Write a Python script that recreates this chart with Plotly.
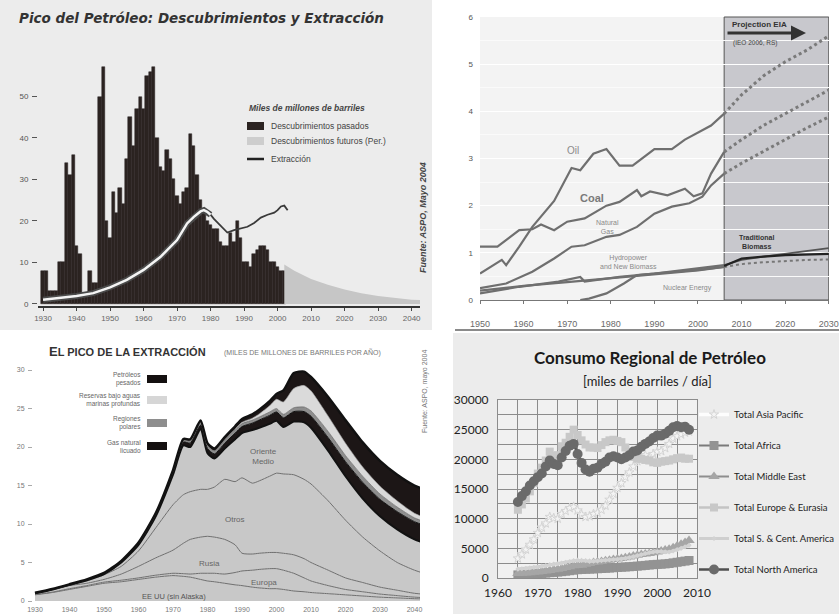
import plotly.graph_objects as go

W, H = 839, 614


def px_x(p):
    return p / W


def px_y(p):
    return 1 - p / H


# ---------------- Panel 1: discoveries and extraction ----------------
disc_years = list(range(1930, 2003))
disc_past = [8, 8, 3, 3, 3, 10, 10, 34, 31, 36,
             14, 12, 2, 2, 8, 5, 5, 50, 57, 20,
             16, 27, 22, 28, 24, 35, 45, 38, 47, 50,
             47, 55, 56, 57, 40, 33, 32, 37, 35, 30,
             26, 24, 27, 28, 41, 38, 31, 25, 22, 20,
             19, 18, 18, 15, 14, 14, 17, 15, 20, 16,
             10, 10, 9, 12, 13, 14, 14, 13, 10, 10,
             9, 8, 8]
fut_years = [2002, 2005, 2010, 2015, 2020, 2025, 2030, 2035, 2040, 2043]
fut_vals = [9.5, 8.0, 6.0, 4.6, 3.5, 2.6, 1.9, 1.4, 1.0, 0.9]
ext_years = [1930, 1935, 1940, 1945, 1950, 1955, 1960, 1965, 1970,
             1973, 1975, 1977, 1978, 1979, 1980, 1981, 1983, 1985, 1987,
             1989, 1991, 1993, 1995, 1997, 1999, 2000, 2001, 2002, 2003]
ext_vals = [1.0, 1.4, 1.9, 2.6, 4.0, 5.8, 8.2, 11.3, 15.4,
            19.4, 21.0, 22.3, 22.6, 22.2, 21.5, 20.5, 18.8, 17.2, 17.8,
            18.2, 18.6, 19.5, 20.8, 21.5, 22.0, 22.6, 23.5, 23.7, 22.6]
p1_ticks = list(range(1930, 2050, 10))

# ---------------- Panel 2: world energy by source ----------------
oil_years = [1950, 1955, 1956, 1959, 1962, 1967, 1971, 1973, 1976, 1979, 1982,
             1985, 1990, 1994, 1997, 2000, 2003, 2006]
oil_vals = [0.56, 0.85, 0.74, 1.13, 1.55, 2.1, 2.8, 2.75, 3.1, 3.2, 2.85,
            2.85, 3.2, 3.2, 3.4, 3.55, 3.7, 3.95]
coal_years = [1950, 1954, 1959, 1962, 1964, 1967, 1970, 1974, 1979, 1982, 1986,
              1987, 1989, 1993, 1997, 1999, 2001, 2003, 2006]
coal_vals = [1.13, 1.13, 1.48, 1.5, 1.6, 1.48, 1.66, 1.73, 2.0, 2.08, 2.33,
             2.2, 2.3, 2.22, 2.36, 2.2, 2.26, 2.68, 3.14]
gas_years = [1950, 1956, 1962, 1967, 1971, 1974, 1979, 1982, 1986, 1990, 1994,
             1998, 2001, 2003, 2006]
gas_vals = [0.25, 0.35, 0.6, 0.88, 1.13, 1.16, 1.34, 1.38, 1.55, 1.83, 1.98,
            2.05, 2.19, 2.43, 2.68]
hydro_years = [1950, 1959, 1968, 1973, 1974, 1982, 1990, 1997, 2006]
hydro_vals = [0.14, 0.28, 0.39, 0.49, 0.39, 0.49, 0.56, 0.64, 0.74]
nuc_years = [1973, 1975, 1979, 1983, 1986, 1990, 1995, 2000, 2006]
nuc_vals = [0.0, 0.03, 0.14, 0.35, 0.53, 0.56, 0.6, 0.64, 0.7]
trad_years = [1950, 1960, 1970, 1980, 1990, 2000, 2006]
trad_vals = [0.2, 0.3, 0.38, 0.46, 0.55, 0.63, 0.7]
proj_years = [2006, 2010, 2015, 2020, 2025, 2030]
oil_proj = [3.95, 4.35, 4.75, 5.05, 5.3, 5.6]
coal_proj = [3.14, 3.4, 3.7, 3.95, 4.2, 4.45]
gas_proj = [2.68, 2.9, 3.15, 3.4, 3.65, 3.88]
hydro_proj = [0.74, 0.85, 0.92, 0.98, 1.04, 1.1]
nuc_proj = [0.7, 0.76, 0.8, 0.83, 0.85, 0.86]
trad_proj_years = [2006, 2008, 2010, 2015, 2020, 2030]
trad_proj = [0.72, 0.8, 0.88, 0.92, 0.95, 0.98]
p2_xticks = [1950, 1960, 1970, 1980, 1990, 2000, 2010, 2020, 2030]

# ---------------- Panel 3: peak of extraction (cumulative band tops) ----------------
years3 = [1930, 1935, 1940, 1945, 1950, 1955, 1960, 1965, 1970,
          1973, 1975, 1978, 1980, 1982, 1985, 1988, 1990, 1993, 1995, 1998, 2000, 2002, 2005, 2008, 2010,
          2015, 2020, 2025, 2030, 2035, 2040, 2045, 2050]
top_us = [0.8, 1.1, 1.5, 1.9, 2.3, 2.5, 2.8, 3.1, 3.3,
          3.2, 3.1, 2.8, 2.6, 2.5, 2.3, 2.1, 2.0, 1.8, 1.7, 1.6, 1.6, 1.5, 1.3, 1.2, 1.1,
          0.95, 0.8, 0.65, 0.5, 0.4, 0.3, 0.25, 0.2]
top_eu = [0.85, 1.15, 1.6, 2.0, 2.45, 2.7, 3.0, 3.35, 3.6,
          3.55, 3.5, 3.6, 3.6, 3.6, 3.5, 3.7, 3.9, 4.0, 4.1, 4.2, 4.2, 4.0, 3.6, 3.0, 2.6,
          2.0, 1.5, 1.2, 0.9, 0.7, 0.5, 0.4, 0.3]
top_ru = [0.95, 1.4, 2.0, 2.3, 2.8, 3.5, 4.5, 5.6, 6.6,
          7.5, 8.0, 8.3, 8.4, 8.3, 8.0, 7.3, 6.2, 6.1, 6.2, 6.3, 6.3, 6.2, 6.0, 5.5, 5.0,
          4.0, 3.0, 2.4, 1.8, 1.4, 1.0, 0.8, 0.6]
top_ot = [1.0, 1.5, 2.05, 2.6, 3.4, 4.5, 6.5, 9.5, 12.5,
          13.8, 14.2, 14.5, 14.5, 14.8, 15.8, 15.5, 16.0, 15.3, 15.6, 16.2, 16.6, 16.5, 16.4, 15.8, 15.2,
          13.0, 10.5, 8.3, 6.5, 5.0, 4.0, 3.3, 2.8]
top_me = [1.0, 1.5, 2.1, 2.7, 3.5, 5.0, 7.3, 11.0, 16.4,
          20.2, 20.0, 22.3, 19.2, 18.5, 19.8, 21.0, 21.8, 22.2, 22.5, 23.0, 23.4, 22.6, 23.3, 23.2, 22.5,
          19.5, 16.2, 13.3, 11.0, 9.3, 8.0, 7.2, 6.5]
top_ngl = [1.05, 1.55, 2.15, 2.78, 3.6, 5.15, 7.5, 11.3, 16.8,
           20.65, 20.5, 22.85, 19.8, 19.1, 20.5, 21.8, 22.65, 23.1, 23.5, 24.1, 24.55, 23.8, 24.6, 24.6, 24.0,
           21.2, 18.1, 15.4, 13.2, 11.6, 10.3, 9.5, 8.7]
top_polar = [1.05, 1.55, 2.15, 2.78, 3.6, 5.15, 7.5, 11.3, 16.85,
             20.85, 20.8, 23.2, 20.2, 19.5, 20.9, 22.2, 23.05, 23.5, 23.9, 24.55, 25.0, 24.25, 25.1, 25.2, 24.7,
             22.0, 18.9, 16.2, 13.9, 12.2, 10.8, 10.0, 9.1]
top_deep = [1.05, 1.55, 2.15, 2.78, 3.6, 5.15, 7.5, 11.3, 16.85,
            20.85, 20.8, 23.2, 20.2, 19.5, 20.95, 22.3, 23.2, 23.75, 24.3, 25.35, 26.2, 25.85, 27.6, 28.0, 27.3,
            24.0, 20.5, 17.4, 14.9, 13.0, 11.4, 10.5, 9.5]
top_total = [1.07, 1.57, 2.18, 2.82, 3.65, 5.22, 7.6, 11.42, 17.0,
             21.05, 21.0, 23.45, 20.5, 19.8, 21.3, 22.7, 23.65, 24.25, 24.85, 25.95, 26.9, 27.35, 29.6, 29.8, 29.1,
             26.5, 23.5, 20.6, 18.2, 16.4, 15.0, 14.1, 13.0]

# ---------------- Panel 4: regional oil consumption ----------------
years4 = list(range(1965, 2009))
asia = [3300, 4000, 4800, 5600, 6500, 7600, 8500, 9200, 10300, 10100,
        10000, 10800, 11300, 11800, 12000, 11400, 10700, 10300, 10400, 10800,
        11000, 11500, 12200, 13200, 14200, 15200, 16000, 17000, 17800, 18800,
        19700, 20300, 20700, 20200, 20900, 21300, 21400, 21900, 22600, 23500,
        23900, 24200, 24500, 24700]
africa = [520, 550, 580, 620, 660, 720, 770, 830, 900, 950,
          1000, 1070, 1150, 1230, 1320, 1400, 1450, 1480, 1500, 1530,
          1560, 1600, 1640, 1680, 1730, 1780, 1820, 1860, 1900, 1950,
          2000, 2060, 2120, 2190, 2250, 2300, 2330, 2380, 2450, 2550,
          2650, 2750, 2850, 2950]
mideast = [750, 800, 850, 900, 960, 1030, 1100, 1180, 1280, 1380,
           1480, 1600, 1750, 1900, 2050, 2100, 2150, 2300, 2450, 2600,
           2700, 2800, 2900, 3000, 3100, 3200, 3300, 3400, 3550, 3700,
           3850, 3950, 4050, 4150, 4250, 4400, 4550, 4700, 4850, 5100,
           5400, 5700, 6000, 6300]
europe = [11500, 12400, 13400, 14600, 16000, 17600, 18600, 19800, 21300, 20600,
          20700, 22200, 22800, 23800, 25000, 24100, 23200, 22500, 22000, 22000,
          21900, 22400, 22900, 23200, 23300, 23100, 22900, 22000, 21200, 20400,
          20100, 20100, 19900, 19800, 19500, 19400, 19600, 19700, 19800, 20000,
          20200, 20300, 20100, 20100]
scamerica = [1500, 1560, 1620, 1700, 1790, 1880, 1990, 2090, 2250, 2350,
             2400, 2520, 2640, 2770, 2920, 3000, 2970, 2920, 2800, 2840,
             2850, 2930, 3010, 3060, 3100, 3110, 3200, 3320, 3450, 3600,
             3780, 3950, 4150, 4300, 4380, 4450, 4480, 4420, 4380, 4550,
             4780, 5000, 5250, 5500]
namerica = [12800, 13800, 14600, 15600, 16300, 17000, 17600, 18800, 19800, 19200,
            19000, 20300, 21400, 22300, 22600, 20900, 19400, 18300, 17900, 18400,
            18600, 19200, 19600, 20300, 20500, 20300, 20000, 20300, 20700, 21300,
            21500, 22100, 22600, 23000, 23600, 24000, 24000, 24300, 24800, 25400,
            25600, 25400, 25500, 25000]
region_names = ["Total Asia Pacific", "Total Africa", "Total Middle East",
                "Total Europe & Eurasia", "Total S. & Cent. America", "Total North America"]
p4_yticks = [0, 5000, 10000, 15000, 20000, 25000, 30000]
p4_ytext = ["0", "5000", "10000", "15000", "20000", "25000", "30000"]

fig = go.Figure()

# ---- Panel 1 traces ----
fig.add_trace(go.Scatter(x=fut_years, y=fut_vals, mode="lines", fill="tozeroy",
                         fillcolor="#c6c6c6", line=dict(color="#c6c6c6", width=0),
                         xaxis="x", yaxis="y", showlegend=False, hoverinfo="skip"))
fig.add_trace(go.Bar(x=disc_years, y=disc_past, width=1.0,
                     marker=dict(color="#2b2321", line=dict(color="#2b2321", width=0.5)),
                     xaxis="x", yaxis="y", showlegend=False))
early = [(yv, v) for yv, v in zip(ext_years, ext_vals) if yv <= 1980]
fig.add_trace(go.Scatter(x=ext_years, y=ext_vals, mode="lines",
                         line=dict(color="#3a3a3a", width=1.8), xaxis="x", yaxis="y", showlegend=False))
fig.add_trace(go.Scatter(x=[e[0] for e in early], y=[e[1] for e in early], mode="lines",
                         line=dict(color="#4a4a4a", width=6), xaxis="x", yaxis="y", showlegend=False))
fig.add_trace(go.Scatter(x=[e[0] for e in early], y=[e[1] for e in early], mode="lines",
                         line=dict(color="#f4f4f4", width=2.5), xaxis="x", yaxis="y", showlegend=False))

# ---- Panel 2 traces ----
hist_col = "#6f6f6f"
for xs, ys in [(trad_years, trad_vals), (hydro_years, hydro_vals), (nuc_years, nuc_vals),
               (gas_years, gas_vals), (coal_years, coal_vals), (oil_years, oil_vals)]:
    fig.add_trace(go.Scatter(x=xs, y=ys, mode="lines", line=dict(color=hist_col, width=2.2),
                             xaxis="x2", yaxis="y2", showlegend=False))
for ys in [oil_proj, coal_proj, gas_proj]:
    fig.add_trace(go.Scatter(x=proj_years, y=ys, mode="lines",
                             line=dict(color="#7a7a7a", width=3, dash="dot"),
                             xaxis="x2", yaxis="y2", showlegend=False))
fig.add_trace(go.Scatter(x=proj_years, y=nuc_proj, mode="lines",
                         line=dict(color="#777", width=2, dash="dot"),
                         xaxis="x2", yaxis="y2", showlegend=False))
fig.add_trace(go.Scatter(x=proj_years, y=hydro_proj, mode="lines",
                         line=dict(color="#555", width=1.8),
                         xaxis="x2", yaxis="y2", showlegend=False))
fig.add_trace(go.Scatter(x=trad_proj_years, y=trad_proj, mode="lines",
                         line=dict(color="#222", width=2.2),
                         xaxis="x2", yaxis="y2", showlegend=False))

# ---- Panel 3 traces ----
bands = [
    (top_us, "#c8c8c8", "#6e6e6e", 1.0, "tozeroy"),
    (top_eu, "#c8c8c8", "#6e6e6e", 1.0, "tonexty"),
    (top_ru, "#c8c8c8", "#6e6e6e", 1.0, "tonexty"),
    (top_ot, "#c8c8c8", "#6e6e6e", 1.0, "tonexty"),
    (top_me, "#c8c8c8", "#111111", 2.0, "tonexty"),
    (top_ngl, "#1c1616", "#111111", 1.0, "tonexty"),
    (top_polar, "#8e8e8e", "#555555", 0.6, "tonexty"),
    (top_deep, "#dadada", "#9a9a9a", 0.6, "tonexty"),
    (top_total, "#1c1616", "#111111", 2.4, "tonexty"),
]
for ys, fc, lc, lw, fl in bands:
    fig.add_trace(go.Scatter(x=years3, y=ys, mode="lines", fill=fl, fillcolor=fc,
                             line=dict(color=lc, width=lw, shape="spline", smoothing=0.6),
                             xaxis="x3", yaxis="y3", showlegend=False))

# ---- Panel 4 traces ----
styles4 = [
    (asia, dict(color="#fdfdfd", width=3.5), dict(symbol="star", size=7, color="#f4f4f4",
                                                 line=dict(color="#d4d4d4", width=1))),
    (africa, dict(color="#7a7a7a", width=2), dict(symbol="square", size=9, color="#939393")),
    (mideast, dict(color="#8e8e8e", width=2), dict(symbol="triangle-up", size=10, color="#a6a6a6")),
    (europe, dict(color="#c4c4c4", width=2.5), dict(symbol="square", size=8, color="#c8c8c8")),
    (scamerica, dict(color="#cfcfcf", width=3), dict(symbol="diamond", size=4, color="#d2d2d2")),
    (namerica, dict(color="#505050", width=2.5), dict(symbol="circle", size=10, color="#6a6a6a")),
]
for name, (ys, ln, mk) in zip(region_names, styles4):
    fig.add_trace(go.Scatter(x=years4, y=ys, mode="lines+markers", name=name, line=ln, marker=mk,
                             legendgroup=name, xaxis="x4", yaxis="y4", showlegend=True))

# ---------------- Shapes ----------------
shapes = [
    dict(type="rect", xref="paper", yref="paper", x0=0, x1=px_x(432), y0=px_y(330), y1=1,
         fillcolor="#ececec", line=dict(width=0), layer="below"),
    dict(type="rect", xref="paper", yref="paper", x0=px_x(453), x1=1, y0=0, y1=px_y(333),
         fillcolor="#ececec", line=dict(width=0), layer="below"),
    dict(type="rect", xref="x2 domain", yref="y2 domain", x0=0, x1=1, y0=0, y1=1,
         fillcolor="#f3f3f3", line=dict(width=0), layer="below"),
    dict(type="rect", xref="x2", yref="y2 domain", x0=2006, x1=2030, y0=0, y1=1,
         fillcolor="#c8c8cd", line=dict(color="#555", width=1), layer="below"),
    dict(type="rect", xref="x4 domain", yref="y4 domain", x0=0, x1=1, y0=0, y1=1,
         fillcolor="#f1f1f1", line=dict(width=0), layer="below"),
    dict(type="line", xref="paper", yref="paper", x0=px_x(455), x1=1, y0=px_y(330), y1=px_y(330),
         line=dict(color="#8a8a8a", width=2)),
    # panel 1 legend keys
    dict(type="rect", xref="paper", yref="paper", x0=px_x(247), x1=px_x(264), y0=px_y(130), y1=px_y(122),
         fillcolor="#2b2321", line=dict(width=0)),
    dict(type="rect", xref="paper", yref="paper", x0=px_x(247), x1=px_x(264), y0=px_y(145), y1=px_y(137),
         fillcolor="#cdcdcd", line=dict(width=0)),
    dict(type="line", xref="paper", yref="paper", x0=px_x(247), x1=px_x(264), y0=px_y(159), y1=px_y(159),
         line=dict(color="#222", width=2.5)),
]
p3_keys = [(379, "#141010"), (400, "#d6d6d6"), (423, "#8e8e8e"), (446, "#141010")]
for yc, col in p3_keys:
    shapes.append(dict(type="rect", xref="paper", yref="paper", x0=px_x(147), x1=px_x(167),
                       y0=px_y(yc + 4), y1=px_y(yc - 4), fillcolor=col, line=dict(width=0)))


def txt(x, y, s, size=9, color="#333", xa="left", ya="middle", family="Liberation Sans",
        angle=0, align="left"):
    return dict(x=px_x(x), y=px_y(y), xref="paper", yref="paper", text=s, showarrow=False,
                xanchor=xa, yanchor=ya, textangle=angle, align=align,
                font=dict(size=size, color=color, family=family))


ann = [
    # panel 1
    txt(17, 18, "<b><i>Pico del Petróleo: Descubrimientos y Extracción</i></b>", size=13.5,
        color="#333", family="DejaVu Sans"),
    txt(247, 108, "<b><i>Miles de millones de barriles</i></b>", size=8.5, color="#444"),
    txt(269, 126, "Descubrimientos pasados", size=8.5, color="#444"),
    txt(269, 141, "Descubrimientos futuros (Per.)", size=8.5, color="#444"),
    txt(269, 159, "Extracción", size=8.5, color="#444"),
    txt(423, 218, "<b><i>Fuente: ASPO, Mayo 2004</i></b>", size=9, color="#444", xa="center",
        angle=-90),
    # panel 2
    txt(573, 150, "Oil", size=10, color="#8a8a8a", xa="center"),
    txt(592, 198, "<b>Coal</b>", size=11, color="#7a7a7a", xa="center"),
    txt(607, 227, "Natural<br>Gas", size=7, color="#8a8a8a", xa="center", align="center"),
    txt(628, 262, "Hydropower<br>and New Biomass", size=7, color="#8a8a8a", xa="center", align="center"),
    txt(687, 288, "Nuclear Energy", size=7, color="#8a8a8a", xa="center"),
    txt(756, 242, "<b>Traditional<br>Biomass</b>", size=7, color="#333", xa="center", align="center"),
    txt(730, 24, "<b>Projection EIA</b>", size=8, color="#333"),
    txt(731, 43, "(IEO 2006, RS)", size=6.5, color="#444"),
    dict(x=px_x(806), y=px_y(33), xref="paper", yref="paper", ax=-80, ay=0, text="",
         showarrow=True, arrowhead=2, arrowsize=1, arrowwidth=3, arrowcolor="#333"),
    # panel 3
    txt(47, 351, "<b>E<span style='font-size:11px'>L PICO DE LA EXTRACCIÓN</span></b>", size=13,
        color="#333"),
    txt(222, 352, "(MILES DE MILLONES DE BARRILES POR AÑO)", size=7, color="#777"),
    txt(143, 379, "Petróleos<br>pesados", size=6.5, color="#666", xa="right", align="right"),
    txt(143, 400, "Reservas bajo aguas<br>marinas profundas", size=6.5, color="#666", xa="right",
        align="right"),
    txt(143, 423, "Regiones<br>polares", size=6.5, color="#666", xa="right", align="right"),
    txt(143, 446, "Gas natural<br>licuado", size=6.5, color="#666", xa="right", align="right"),
    txt(263, 456, "Oriente<br>Medio", size=8, color="#666", xa="center", align="center"),
    txt(235, 519, "Otros", size=8, color="#666", xa="center"),
    txt(209, 563, "Rusia", size=8, color="#666", xa="center"),
    txt(264, 582, "Europa", size=8, color="#666", xa="center"),
    txt(174, 596, "EE UU (sin Alaska)", size=7.5, color="#555", xa="center"),
    txt(425, 392, "Fuente: ASPO, mayo 2004", size=7, color="#777", xa="center", angle=-90),
    # panel 4
    txt(650, 357, "<b>Consumo Regional de Petróleo</b>", size=17, color="#1a1a1a", family="Lato",
        xa="center"),
    txt(647, 381, "[miles de barriles / día]", size=13, color="#222", family="Lato", xa="center"),
]

fig.update_layout(
    width=W, height=H, autosize=False,
    margin=dict(l=0, r=0, t=0, b=0, autoexpand=False),
    paper_bgcolor="#ffffff", plot_bgcolor="rgba(0,0,0,0)",
    barmode="overlay", bargap=0,
    shapes=shapes, annotations=ann,
    showlegend=True,
    legend=dict(x=px_x(694), y=px_y(400), xanchor="left", yanchor="top",
                bgcolor="rgba(0,0,0,0)", tracegroupgap=12, itemwidth=30,
                font=dict(family="Lato", size=9.5, color="#222")),
    # panel 1 axes
    xaxis=dict(domain=[px_x(38), px_x(420)], range=[1928.5, 2042.5], anchor="y", automargin=False,
               tickvals=p1_ticks, ticks="outside", ticklen=3, tickcolor="#444",
               showline=True, linecolor="#333", linewidth=1.5, showgrid=False, zeroline=False,
               tickfont=dict(size=8, color="#666", family="Liberation Sans"), ticklabelstandoff=1),
    yaxis=dict(domain=[px_y(306), px_y(60)], range=[-0.5, 58.8], anchor="x", automargin=False,
               tickvals=[0, 10, 20, 30, 40, 50], ticks="outside", ticklen=5, tickcolor="#555",
               showgrid=False, zeroline=False, showline=False,
               tickfont=dict(size=8, color="#555", family="Liberation Sans"), ticklabelstandoff=2),
    # panel 2 axes
    xaxis2=dict(domain=[px_x(480), px_x(829)], range=[1950, 2030.05], anchor="y2", automargin=False,
                tickvals=p2_xticks, ticks="outside", ticklen=3, tickcolor="#777",
                showline=True, linecolor="#777", linewidth=1, showgrid=False, zeroline=False,
                tickfont=dict(size=9, color="#6a6a6a", family="Liberation Sans"), ticklabelstandoff=12),
    yaxis2=dict(domain=[px_y(300), px_y(17)], range=[0, 6], anchor="x2", dtick=1, automargin=False,
                showgrid=True, gridcolor="#ffffff", gridwidth=1, zeroline=False,
                minor=dict(dtick=0.5, showgrid=True, gridcolor="#fafafa"),
                tickfont=dict(size=8, color="#555", family="Liberation Sans"), ticklabelstandoff=6),
    # panel 3 axes
    xaxis3=dict(domain=[px_x(33), px_x(420)], range=[1929.42, 2041.6], anchor="y3", automargin=False,
                dtick=10, showgrid=False, zeroline=False, showline=False,
                tickfont=dict(size=7, color="#777", family="Liberation Sans"), ticklabelstandoff=1),
    yaxis3=dict(domain=[px_y(603), px_y(365)], range=[-0.26, 30.65], anchor="x3", automargin=False,
                tickvals=[0, 5, 10, 15, 20, 25, 30], ticks="outside", ticklen=4, tickcolor="#aaa",
                showgrid=False, zeroline=False, showline=False,
                tickfont=dict(size=7, color="#777", family="Liberation Sans"), ticklabelstandoff=2),
    # panel 4 axes
    xaxis4=dict(domain=[px_x(498), px_x(697)], range=[1960, 2010], anchor="y4", automargin=False,
                dtick=10, showgrid=True, gridcolor="#8c8c8c", gridwidth=1,
                minor=dict(dtick=5, showgrid=True, gridcolor="#8c8c8c", gridwidth=1),
                showline=True, mirror=True, linecolor="#8c8c8c", zeroline=False,
                tickfont=dict(size=12, color="#222", family="Lato"), ticklabelstandoff=4),
    yaxis4=dict(domain=[px_y(578), px_y(400)], range=[0, 30000], anchor="x4", automargin=False,
                tickvals=p4_yticks, ticktext=p4_ytext, showgrid=True, gridcolor="#8c8c8c", gridwidth=1,
                minor=dict(dtick=2500, showgrid=True, gridcolor="#8c8c8c", gridwidth=1),
                showline=True, mirror=True, linecolor="#8c8c8c", zeroline=False,
                tickfont=dict(size=12, color="#222", family="Lato"), ticklabelstandoff=6),
)

fig.write_html("out.html", config={"displayModeBar": False},
               post_script="document.body.style.margin='0px';")
